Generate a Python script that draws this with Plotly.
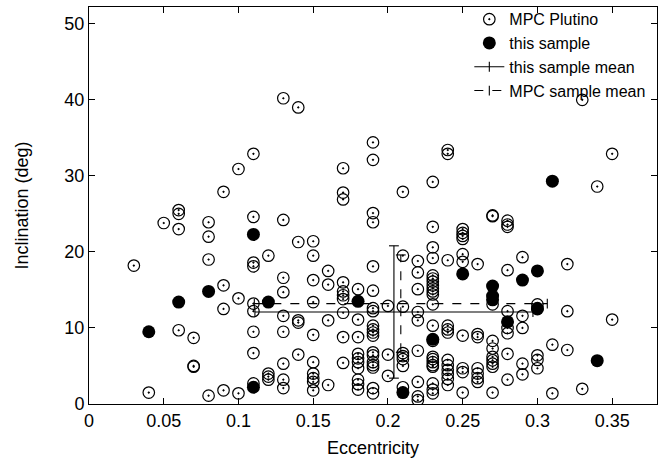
import plotly.graph_objects as go

# MPC Plutino (open circles): eccentricity, inclination (deg)
mpc_e = (
    [0.03] + [0.04] + [0.05]
    + [0.06] * 4 + [0.07] * 3 + [0.08] * 4 + [0.09] * 4 + [0.10] * 3
    + [0.11] * 9 + [0.12] * 4 + [0.13] * 9 + [0.14] * 5 + [0.15] * 10
    + [0.16] * 4 + [0.17] * 10 + [0.18] * 10 + [0.19] * 19 + [0.20] * 3
    + [0.21] * 8 + [0.22] * 9 + [0.23] * 22 + [0.24] * 12 + [0.25] * 10
    + [0.26] * 7 + [0.27] * 10 + [0.28] * 9 + [0.29] * 5 + [0.30] * 5
    + [0.31] * 2 + [0.32] * 3 + [0.33] * 2 + [0.34] * 1 + [0.35] * 2
)
mpc_i = (
    [18.2] + [1.5] + [23.8]
    + [25.5, 25.0, 23.0, 9.7]
    + [8.7, 5.0, 4.9]
    + [23.9, 22.0, 19.0, 1.1]
    + [27.9, 15.6, 12.5, 1.8]
    + [30.9, 13.9, 1.4]
    + [32.9, 24.6, 18.6, 18.1, 13.2, 12.2, 9.5, 6.7, 2.7]
    + [19.5, 4.0, 3.6, 3.2]
    + [40.2, 24.2, 16.6, 14.7, 11.6, 9.5, 5.3, 3.2, 2.1]
    + [39.0, 21.3, 11.0, 10.7, 6.5]
    + [21.4, 19.5, 16.3, 13.4, 9.1, 5.5, 4.0, 3.4, 2.9, 1.8]
    + [17.5, 15.7, 11.0, 2.5]
    + [31.0, 27.8, 26.9, 16.0, 14.8, 14.3, 13.8, 12.0, 8.8, 5.4]
    + [15.1, 11.1, 8.8, 6.6, 6.0, 5.5, 4.7, 3.2, 2.6, 1.9]
    + [34.4, 32.1, 25.1, 23.9, 18.1, 14.9, 12.6, 12.2, 10.3, 9.8, 9.4,
       9.0, 6.8, 6.4, 5.5, 5.1, 4.8, 2.1, 1.4]
    + [12.9, 6.5, 3.7]
    + [27.9, 19.5, 12.8, 6.7, 6.3, 5.9, 5.0, 2.2]
    + [18.8, 17.3, 15.1, 12.1, 11.0, 7.0, 2.9, 1.0, 0.5]
    + [29.2, 23.3, 20.6, 19.2, 16.9, 16.5, 16.1, 15.6, 15.2, 14.8, 14.4,
       13.1, 10.3, 8.3, 6.2, 5.9, 5.5, 5.1, 4.9, 2.7, 1.9, 1.4]
    + [33.4, 32.9, 18.9, 10.3, 9.8, 9.4, 5.8, 5.1, 4.5, 3.9, 3.3, 2.5]
    + [23.0, 22.5, 22.1, 21.7, 19.7, 18.7, 9.0, 4.7, 4.2, 1.5]
    + [18.4, 9.2, 8.8, 4.7, 4.0, 3.4, 2.9]
    + [24.8, 24.7, 13.1, 8.3, 7.3, 6.2, 5.75, 5.3, 4.9, 1.5]
    + [24.1, 23.6, 23.3, 17.6, 12.2, 10.0, 9.3, 6.6, 3.2]
    + [19.3, 11.6, 10.0, 5.3, 3.9]
    + [13.1, 12.6, 6.4, 5.8, 4.7]
    + [7.8, 1.4]
    + [18.4, 12.2, 7.1]
    + [40.0, 2.0]
    + [28.6]
    + [32.9, 11.1]
)

# this sample (filled circles)
smp_e = [0.04, 0.06, 0.08, 0.11, 0.11, 0.12, 0.18, 0.21, 0.23, 0.25,
         0.27, 0.27, 0.27, 0.28, 0.29, 0.30, 0.30, 0.31, 0.34]
smp_i = [9.5, 13.4, 14.8, 22.3, 2.2, 13.4, 13.5, 1.5, 8.5, 17.1,
         15.5, 14.2, 13.7, 10.8, 16.3, 17.5, 12.5, 29.3, 5.7]

# means with errors: [e, i, e_err, i_err]
this_mean = [0.204, 12.1, 0.093, 8.7]
mpc_mean = [0.2086, 13.2, 0.098, 6.4]

FONT = "Liberation Sans, Arial, Helvetica, sans-serif"

fig = go.Figure()

fig.add_trace(go.Scatter(
    x=mpc_e, y=mpc_i, mode="markers", name="MPC Plutino",
    marker=dict(symbol="circle-open-dot", size=11.5, color="black",
                line=dict(width=1.2, color="black")),
))
fig.add_trace(go.Scatter(
    x=smp_e, y=smp_i, mode="markers", name="this sample",
    marker=dict(symbol="circle", size=13, color="black",
                line=dict(width=0)),
))


def mean_trace(m, name, dash):
    e, i, de, di = m
    xs = [e - de, e + de, None, e, e]
    ys = [i, i, None, i - di, i + di]
    return go.Scatter(
        x=xs, y=ys, mode="lines+markers", name=name,
        line=dict(color="black", width=1.1, dash=dash),
        marker=dict(symbol=["line-ns", "line-ns", "line-ns", "line-ew", "line-ew"],
                    size=7, color="black",
                    line=dict(width=1.1, color="black")),
    )


fig.add_trace(mean_trace(this_mean, "this sample mean", "solid"))
fig.add_trace(mean_trace(mpc_mean, "MPC sample mean", "dash"))

axis_common = dict(
    showline=True, linecolor="black", linewidth=1, mirror="ticks",
    ticks="inside", ticklen=6, tickcolor="black", tickwidth=1,
    showgrid=False, zeroline=False, automargin=False,
    tickfont=dict(family=FONT, size=18, color="black"),
)

fig.update_layout(
    width=665, height=468,
    margin=dict(l=89, r=8, t=2, b=64),
    plot_bgcolor="white", paper_bgcolor="white",
    font=dict(family=FONT, size=18, color="black"),
    xaxis=dict(range=[0, 0.38], dtick=0.05, tick0=0,
               title=dict(text="Eccentricity", font=dict(family=FONT, size=18), standoff=11),
               **axis_common),
    yaxis=dict(range=[0, 52.2], dtick=10, tick0=0,
               title=dict(text="Inclination (deg)", font=dict(family=FONT, size=18), standoff=31),
               **axis_common),
    legend=dict(x=0.99, xanchor="right", y=1.012, yanchor="top",
                bgcolor="rgba(0,0,0,0)", borderwidth=0,
                font=dict(family=FONT, size=16), tracegroupgap=0),
    showlegend=True,
)

fig.write_html("out.html",
               config={"displayModeBar": False},
               post_script="document.body.style.margin='0';document.body.style.overflow='hidden';")
